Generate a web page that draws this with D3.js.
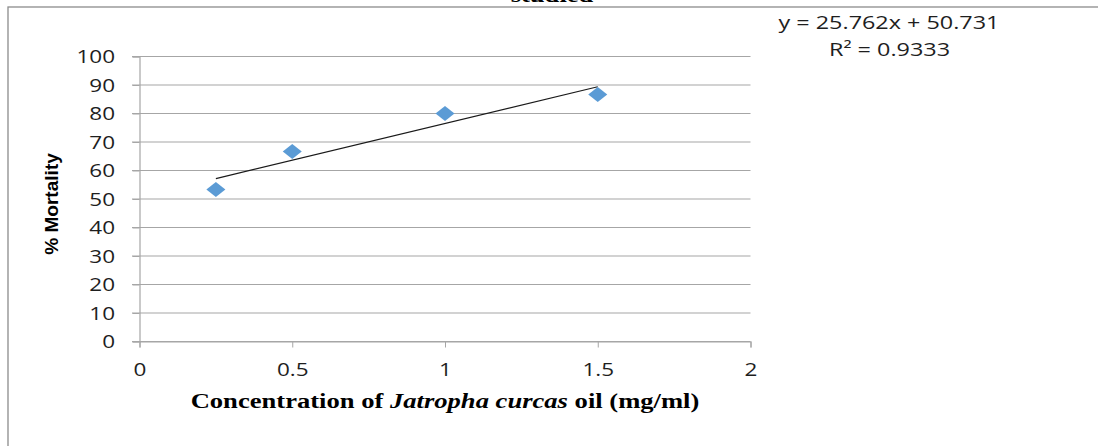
<!DOCTYPE html>
<html>
<head>
<meta charset="utf-8">
<script src="https://cdn.jsdelivr.net/npm/d3@7"></script>
<style>
  html, body { margin: 0; padding: 0; background: #fff; }
  svg { display: block; }
</style>
</head>
<body>
<svg id="chart" width="1098" height="446"></svg>
<script>
// Concentration of oil (mg/ml) and observed % mortality
const concentrations = [0.25, 0.5, 1, 1.5];
const mortality = [53.33, 66.67, 80, 86.67];
const xTicks = [0, 0.5, 1, 1.5, 2];
const yTicks = [0, 10, 20, 30, 40, 50, 60, 70, 80, 90, 100];
// Linear trendline fitted to the data
const trendSlope = 25.762;
const trendIntercept = 50.731;
const trendR2 = 0.9333;

const svg = d3.select("#chart");
const W = 1098, H = 446;
const SX = 1.33; // horizontal widening applied to the lettering
const SXT = 1.25; // widening for tick labels

// place a text element at (x, y) and widen it horizontally
function widen(sel, x, y, s = SX) {
  sel.attr("x", 0).attr("y", 0)
     .attr("transform", `translate(${x},${y}) scale(${s},1)`);
  return sel;
}

// Outer frame of the figure
svg.append("rect")
  .attr("x", 8).attr("y", 7)
  .attr("width", W + 10).attr("height", H + 10)
  .attr("fill", "none").attr("stroke", "#8c8c8c").attr("stroke-width", 1.3);

// Title, mostly above the visible area
widen(svg.append("text"), 552, 1.5)
  .attr("text-anchor", "middle")
  .attr("font-family", "Liberation Serif, Times New Roman, serif")
  .attr("font-weight", "bold").attr("font-size", 20)
  .attr("fill", "#000")
  .text("studied");

const x = d3.scaleLinear().domain([0, 2]).range([139.5, 750.5]);
const y = d3.scaleLinear().domain([0, 100]).range([341.5, 56.5]);

// Horizontal gridlines
svg.append("g")
  .selectAll("line")
  .data(yTicks)
  .join("line")
  .attr("x1", 132).attr("x2", x(2))
  .attr("y1", d => y(d)).attr("y2", d => y(d))
  .attr("stroke", "#a6a6a6").attr("stroke-width", 1.2);

const tickFont = "Open Sans, Liberation Sans, sans-serif";

// Y axis
const yAxis = svg.append("g")
  .attr("transform", `translate(${x(0)},0)`)
  .call(d3.axisLeft(y).tickValues(yTicks).tickSize(7).tickFormat(d3.format("d")));
yAxis.select(".domain").attr("stroke", "#a6a6a6").attr("stroke-width", 1.2);
yAxis.selectAll(".tick line").attr("stroke", "#a6a6a6");
yAxis.selectAll("text")
  .attr("x", 0).attr("dy", "0.36em")
  .attr("transform", `translate(-24.5,0) scale(${SXT},1)`)
  .attr("font-family", tickFont)
  .attr("font-size", 18).attr("fill", "#1e1e1e");

// X axis
const xAxis = svg.append("g")
  .attr("transform", `translate(0,${y(0)})`)
  .call(d3.axisBottom(x).tickValues(xTicks).tickSize(6).tickFormat(d => String(d)));
xAxis.select(".domain").attr("stroke", "#a6a6a6").attr("stroke-width", 1.2);
xAxis.selectAll(".tick line").attr("stroke", "#a6a6a6");
xAxis.selectAll("text")
  .attr("y", 0).attr("dy", 0)
  .attr("transform", `translate(0,34) scale(${SXT},1)`)
  .attr("font-family", tickFont)
  .attr("font-size", 18).attr("fill", "#1e1e1e");

// Trendline over the data range
const x0 = d3.min(concentrations), x1 = d3.max(concentrations);
svg.append("line")
  .attr("x1", x(x0)).attr("y1", y(trendSlope * x0 + trendIntercept))
  .attr("x2", x(x1)).attr("y2", y(trendSlope * x1 + trendIntercept))
  .attr("stroke", "#1a1a1a").attr("stroke-width", 1.2);

// Diamond markers
svg.append("g")
  .selectAll("path")
  .data(concentrations.map((c, i) => [c, mortality[i]]))
  .join("path")
  .attr("transform", d => `translate(${x(d[0])},${y(d[1])})`)
  .attr("d", "M0,-7.5 L9.5,0 L0,7.5 L-9.5,0 Z")
  .attr("fill", "#5b9bd5");

// Axis titles
svg.append("text")
  .attr("transform", "translate(58,204) rotate(-90) scale(1.06,1)")
  .attr("text-anchor", "middle")
  .attr("font-family", "Liberation Sans, Arial, sans-serif")
  .attr("font-weight", "bold").attr("font-size", 18)
  .attr("fill", "#000")
  .text("% Mortality");

const xt = widen(svg.append("text"), 445, 408)
  .attr("text-anchor", "middle")
  .attr("font-family", "Liberation Serif, Times New Roman, serif")
  .attr("font-weight", "bold").attr("font-size", 20)
  .attr("fill", "#000");
xt.append("tspan").text("Concentration of ");
xt.append("tspan").attr("font-style", "italic").text("Jatropha curcas");
xt.append("tspan").attr("font-style", "normal").text(" oil (mg/ml)");

// Regression equation and R²
const eq = svg.append("g")
  .attr("font-family", tickFont)
  .attr("font-size", 18).attr("fill", "#1e1e1e")
  .attr("text-anchor", "middle");
widen(eq.append("text"), 889, 28.5, 1.3)
  .text(`y = ${trendSlope.toFixed(3)}x + ${trendIntercept.toFixed(3)}`);
widen(eq.append("text"), 889.5, 55.5, 1.3)
  .text(`R² = ${trendR2.toFixed(4)}`);
</script>
</body>
</html>
